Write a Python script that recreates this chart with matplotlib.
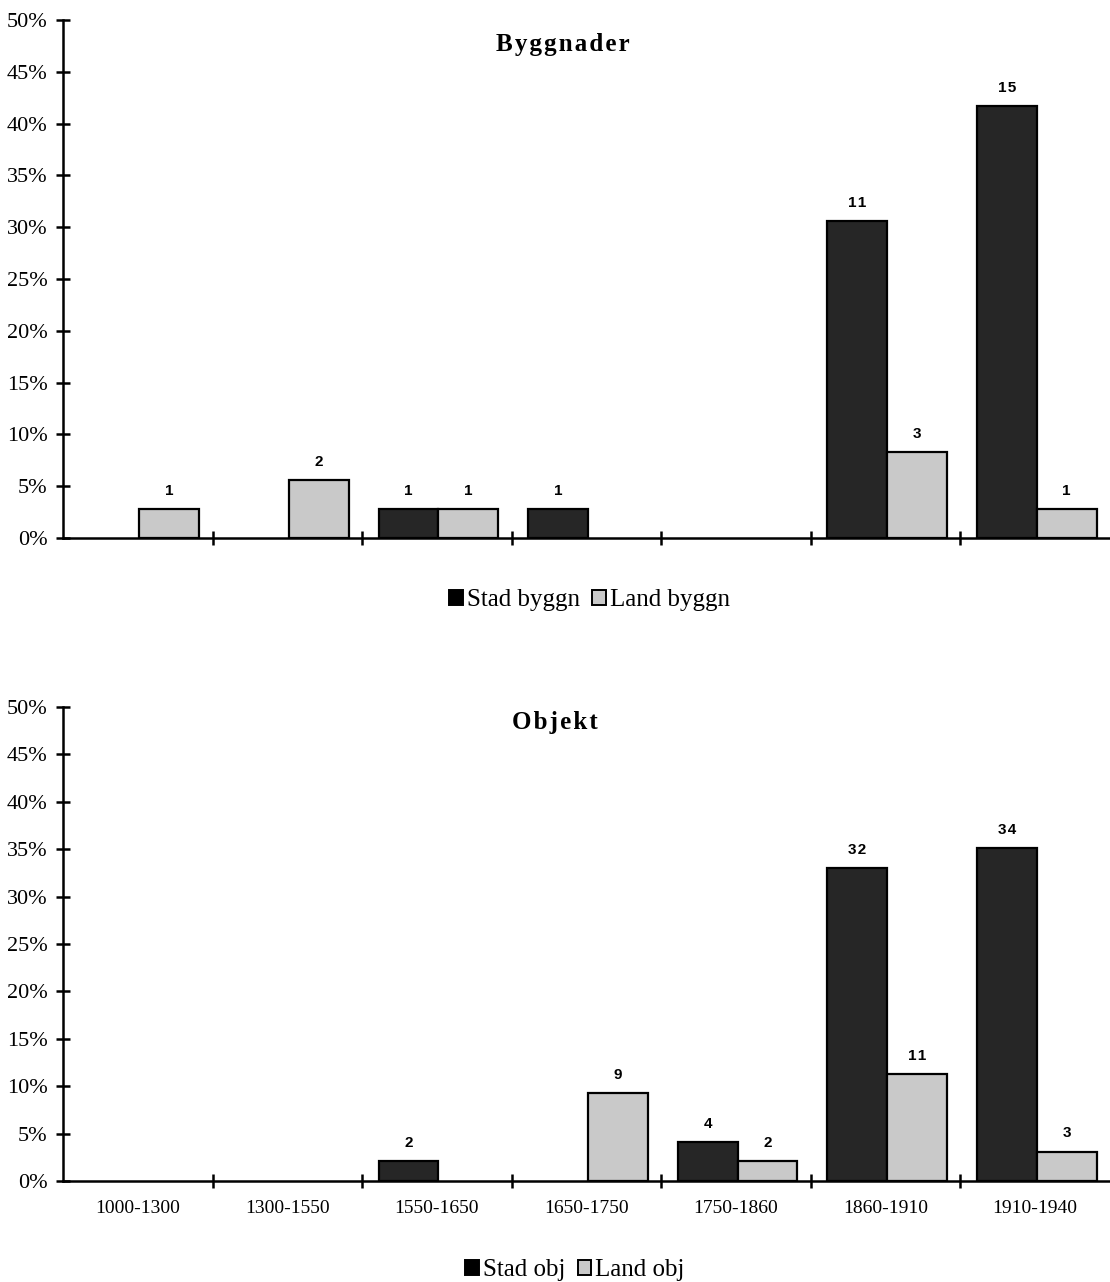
import matplotlib
matplotlib.use("Agg")
import matplotlib.pyplot as plt
from matplotlib.patches import Patch
from matplotlib.ticker import FuncFormatter
import numpy as np

periods = ["1000-1300", "1300-1550", "1550-1650", "1650-1750",
           "1750-1860", "1860-1910", "1910-1940"]

# Byggnader: counts and share (%) per period
stad_byggn_n = [0, 0, 1, 1, 0, 11, 15]
land_byggn_n = [1, 2, 1, 0, 0, 3, 1]
stad_byggn_pct = [0.0, 0.0, 2.8, 2.8, 0.0, 30.6, 41.7]
land_byggn_pct = [2.8, 5.6, 2.8, 0.0, 0.0, 8.3, 2.8]

# Objekt
stad_obj_n = [0, 0, 2, 0, 4, 32, 34]
land_obj_n = [0, 0, 0, 9, 2, 11, 3]
stad_obj_pct = [0.0, 0.0, 2.1, 0.0, 4.1, 33.0, 35.1]
land_obj_pct = [0.0, 0.0, 0.0, 9.3, 2.1, 11.3, 3.1]

DARK = "#262626"
LIGHT = "#c9c9c9"
SERIF = "Liberation Serif"
SANS = "Liberation Sans"

fig = plt.figure(figsize=(11.1, 12.82), dpi=100)
ax1 = fig.add_axes([0.0568, 0.5803, 0.9432, 0.4041])
ax2 = fig.add_axes([0.0568, 0.0788, 0.9432, 0.3697])


def spaced(s):
    # the titles are set slightly letter-spaced
    return "\u200a".join(s)


def draw(ax, stad_pct, land_pct, stad_n, land_n, title, labels, tx, ty):
    x = np.arange(len(periods))
    w = 0.4
    b1 = ax.bar(x - 0.19, stad_pct, w, color=DARK, edgecolor="black", lw=1.6)
    b2 = ax.bar(x + 0.21, land_pct, w, color=LIGHT, edgecolor="black", lw=1.6)
    for bars, counts in ((b1, stad_n), (b2, land_n)):
        for r, n in zip(bars, counts):
            if n:
                ax.annotate(spaced(str(n)), (r.get_x() + r.get_width() / 2, r.get_height()),
                            xytext=(0, 8), textcoords="offset points", ha="center",
                            va="bottom", fontsize=11, fontweight="bold", family=SANS)
            else:
                r.set_linewidth(0)
    ax.set_xlim(-0.5, 6.5)
    ax.set_ylim(0, 50)
    ax.set_yticks(np.arange(0, 51, 5))
    ax.yaxis.set_major_formatter(FuncFormatter(lambda v, p: "%d%%" % v))
    ax.set_xticks(np.arange(0.5, 6, 1))
    ax.set_xticklabels([])
    if labels:
        ax.set_xticks(x, minor=True)
        ax.set_xticklabels(periods, minor=True, fontsize=14, family=SERIF)
    ax.tick_params(axis="x", which="minor", length=0, pad=14)
    ax.tick_params(axis="both", which="major", direction="inout", length=10, width=1.8,
                   labelsize=16)
    ax.tick_params(axis="y", pad=6)
    for lab in ax.get_yticklabels():
        lab.set_family(SERIF)
    for s in ("top", "right"):
        ax.spines[s].set_visible(False)
    for s in ("left", "bottom"):
        ax.spines[s].set_linewidth(1.8)
    ax.text(tx, ty, spaced(title), transform=ax.transAxes, ha="center", va="center",
            fontsize=18, fontweight="bold", family=SERIF)


draw(ax1, stad_byggn_pct, land_byggn_pct, stad_byggn_n, land_byggn_n,
     "Byggnader", False, 0.477, 0.952)
draw(ax2, stad_obj_pct, land_obj_pct, stad_obj_n, land_obj_n,
     "Objekt", True, 0.47, 0.968)

handles = [Patch(facecolor="black", edgecolor="black", lw=1.4),
           Patch(facecolor=LIGHT, edgecolor="black", lw=1.4)]
leg_kw = dict(ncol=2, frameon=False, handlelength=0.55, handleheight=0.55,
              handletextpad=0.15, columnspacing=0.5, prop={"family": SERIF, "size": 18})
fig.legend(handles, ["Stad byggn", "Land byggn"], loc="center", bbox_to_anchor=(0.531, 0.532), **leg_kw)
fig.legend(handles, ["Stad obj", "Land obj"], loc="center", bbox_to_anchor=(0.518, 0.0094), **leg_kw)

fig.savefig("out.png", dpi=100)
